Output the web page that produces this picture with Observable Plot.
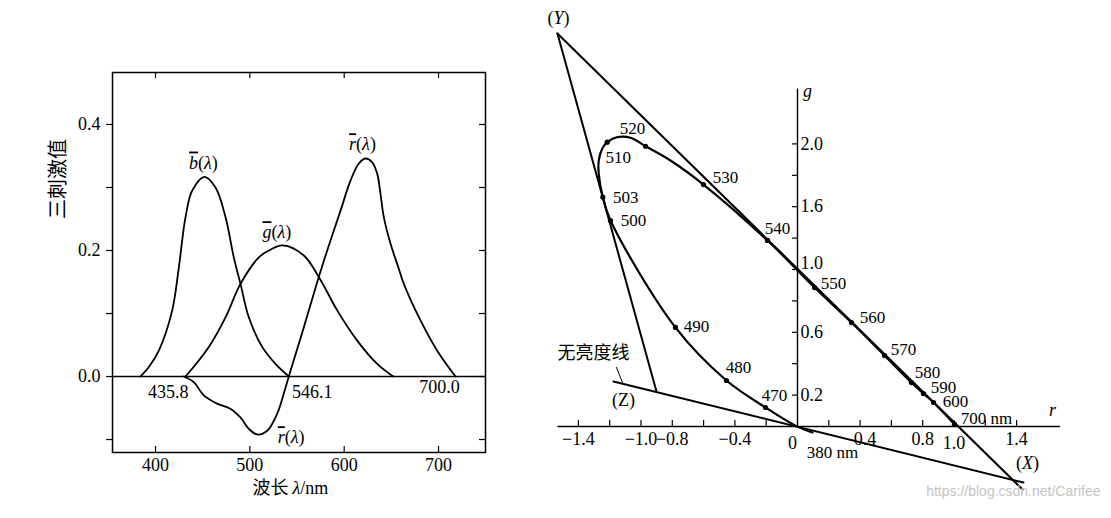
<!DOCTYPE html>
<html><head><meta charset="utf-8">
<script src="https://cdn.jsdelivr.net/npm/d3@7"></script>
<script src="https://cdn.jsdelivr.net/npm/@observablehq/plot@0.6"></script>
<style>
body{margin:0;background:#fff;}
#wrap{position:relative;width:1111px;height:518px;overflow:hidden;background:#fff;}
#left{position:absolute;left:0;top:0;}
#right{position:absolute;left:520px;top:0;}
svg{overflow:visible;}
</style></head><body>
<div id="wrap"><div id="left"></div><div id="right"></div></div>
<script>
// ---------- Left panel data: colour matching functions ----------
const bLambda = [384, 392.9, 403.5, 417.7, 424.7, 431.8, 438.9, 451.9, 463.6, 474.2, 483, 490.1, 498.9, 513.1, 527.2, 541.3];
const bValue  = [0, 0.015, 0.041, 0.105, 0.173, 0.253, 0.295, 0.317, 0.300, 0.253, 0.189, 0.147, 0.094, 0.047, 0.020, 0];
const gLambda = [431.8, 456.5, 474.2, 490.1, 509.5, 520.1, 535, 557.2, 573.1, 592.6, 613.8, 635, 652];
const gValue  = [0, 0.047, 0.094, 0.147, 0.189, 0.200, 0.208, 0.192, 0.158, 0.105, 0.057, 0.020, 0];
const rLambda = [430, 440.6, 451.2, 465.2, 479.3, 490, 498.9, 507.8, 518.4, 529, 536, 541.3, 557.2, 573.1, 585.5, 596.1, 606.7, 615.5, 622.6, 629.7, 635, 638.5, 642, 649.1, 657.9, 663.2, 680.9, 698.6, 718];
const rValue  = [0, -0.009, -0.030, -0.043, -0.051, -0.065, -0.083, -0.092, -0.086, -0.059, -0.027, 0, 0.078, 0.158, 0.216, 0.263, 0.311, 0.338, 0.346, 0.340, 0.322, 0.290, 0.253, 0.211, 0.171, 0.147, 0.089, 0.041, 0];
const lambdaTicks = [400, 500, 600, 700];
const valueTicks = [-0.1, 0, 0.1, 0.2, 0.3, 0.4];
const valueTickLabels = ["", "0.0", "", "0.2", "", "0.4"];
const primaryWavelengths = [435.8, 546.1, 700.0];
const primaryWavelengthLabels = ["435.8", "546.1", "700.0"];
const curveNames = ["b", "g", "r"];
const leftXTitle = "波长 λ/nm";
const leftYTitle = "三刺激值";

// ---------- Right panel data: rg chromaticity diagram ----------
const locusNm = [380, null, 470, 480, 490, 500, 503, null, null, null, 510, null, null, 520, null, 530, 540, 550, 560, 570, 580, 590, 600, 700];
const locusR  = [0.096, -0.01, -0.204, -0.454, -0.780, -1.195, -1.244, -1.270, -1.270, -1.248, -1.216, -1.152, -1.067, -0.971, -0.812, -0.601, -0.192, 0.109, 0.345, 0.556, 0.728, 0.805, 0.869, 1.003];
const locusG  = [-0.038, 0.004, 0.121, 0.293, 0.631, 1.312, 1.461, 1.610, 1.694, 1.769, 1.811, 1.843, 1.839, 1.785, 1.694, 1.541, 1.185, 0.885, 0.662, 0.452, 0.280, 0.210, 0.153, 0.015];
const primaryNames = ["(Y)", "(Z)", "(X)"];
const primaryR = [-1.534, -0.901, 1.361];
const primaryG = [2.503, 0.223, -0.331];
const yxLineR = [-1.534, 1.438];
const yxLineG = [2.503, -0.401];
const alychneR = [-1.176, 1.444];
const alychneG = [0.287, -0.357];
const leaderR = [-1.157, -1.118];
const leaderG = [0.376, 0.280];
const alychneLabel = "无亮度线";
const rTicks = [-1.4, -1.2, -1.0, -0.8, -0.6, -0.4, -0.2, 0.2, 0.4, 0.6, 0.8, 1.0, 1.2, 1.4];
const rTickLabelValues = [-1.4, -1.0, -0.8, -0.4, 0, 0.4, 0.8, 1.0, 1.4];
const rTickLabels = ["−1.4", "−1.0", "−0.8", "−0.4", "0", "0.4", "0.8", "1.0", "1.4"];
const gTicks = [0.2, 0.4, 0.6, 0.8, 1.0, 1.2, 1.4, 1.6, 1.8];
const gTickLabelValues = [0.2, 0.6, 1.0, 1.4, 1.8];
const gTickLabels = ["0.2", "0.6", "1.0", "1.6", "2.0"];
const rAxisExtent = [-1.53, 1.68];
const gAxisExtent = [0, 2.15];
const watermark = "https://blog.csdn.net/Carifee";

// ---------- Layout (code, not data) ----------
const serif = "'Liberation Serif', 'Noto Sans CJK SC', serif";
const toPts = (xs, ys) => xs.map((x, i) => ({x, y: ys[i]}));

// ---------- Left plot ----------
const bData = toPts(bLambda, bValue), gData = toPts(gLambda, gValue), rData = toPts(rLambda, rValue);
const peak = (arr) => arr.reduce((a, b) => (b.y > a.y ? b : a));
const trough = (arr) => arr.reduce((a, b) => (b.y < a.y ? b : a));
const yLabelMap = new Map(valueTicks.map((v, i) => [v, valueTickLabels[i]]));
const LW = 520, LH = 518, LML = 112, LMR = 35, LMT = 72, LMB = 66;
const innerLW = LW - LML - LMR, innerLH = LH - LMT - LMB;
const primOffsets = [[-21, 16], [19, 16], [1, 11]];

const left = Plot.plot({
  width: LW, height: LH, marginLeft: LML, marginRight: LMR, marginTop: LMT, marginBottom: LMB,
  x: {domain: [354.4, 749.8]},
  y: {domain: [-0.1206, 0.4825]},
  style: {fontFamily: serif, fontSize: "18px", color: "#000", background: "#fff", overflow: "visible"},
  marks: [
    Plot.frame({stroke: "#000", strokeWidth: 1.5}),
    Plot.ruleY([0], {stroke: "#000", strokeWidth: 1.3}),
    Plot.axisY(valueTicks, {anchor: "left", tickSize: 6, tickPadding: 6, tickFormat: d => yLabelMap.get(d) ?? "", label: null, fontSize: 18, strokeWidth: 1.2}),
    Plot.tickY(valueTicks, {y: d => d, insetLeft: innerLW - 6, stroke: "#000", strokeWidth: 1.2}),
    Plot.axisX(lambdaTicks, {anchor: "bottom", tickSize: 0, tickPadding: 6, label: null, fontSize: 18}),
    Plot.tickX(lambdaTicks, {x: d => d, insetTop: innerLH - 6, stroke: "#000", strokeWidth: 1.2}),
    Plot.tickX(lambdaTicks, {x: d => d, insetBottom: innerLH - 6, stroke: "#000", strokeWidth: 1.2}),
    Plot.line(bData, {x: "x", y: "y", curve: "catmull-rom", stroke: "#000", strokeWidth: 1.8}),
    Plot.line(gData, {x: "x", y: "y", curve: "catmull-rom", stroke: "#000", strokeWidth: 1.8}),
    Plot.line(rData, {x: "x", y: "y", curve: "catmull-rom", stroke: "#000", strokeWidth: 1.8}),
    Plot.text([peak(bData)], {x: "x", y: "y", text: () => `${curveNames[0]}(λ)`, dx: -1, dy: -14, fontSize: 18}),
    Plot.text([peak(gData)], {x: "x", y: "y", text: () => `${curveNames[1]}(λ)`, dx: -6, dy: -13, fontSize: 18}),
    Plot.text([peak(rData)], {x: "x", y: "y", text: () => `${curveNames[2]}(λ)`, dx: -3, dy: -14, fontSize: 18}),
    Plot.text([trough(rData)], {x: "x", y: "y", text: () => `${curveNames[2]}(λ)`, dx: 34, dy: 3, fontSize: 18}),
    ...primaryWavelengths.map((w, i) => Plot.text([w], {x: d => d, y: () => 0, text: () => primaryWavelengthLabels[i], dx: primOffsets[i][0], dy: primOffsets[i][1], fontSize: 18})),
    Plot.text([leftXTitle], {frameAnchor: "bottom", x: () => 543, text: d => d, dy: 41, fontSize: 18}),
    Plot.text([leftYTitle], {frameAnchor: "left", y: () => 0.25, text: d => d, dx: -54, rotate: -90, fontSize: 20, fontFamily: "'Noto Sans CJK SC', sans-serif"})
  ]
});

// ---------- Right plot ----------
const RW = 591, RH = 518;
const PXR = 156.5, PXG = 157; // pixels per unit (domain chosen accordingly)
const rDomain = [-277 / PXR, (RW - 277) / PXR];
const gDomain = [-(RH - 426) / PXG, 426 / PXG];
const locus = locusNm.map((nm, i) => ({nm, r: locusR[i], g: locusG[i]}));
const labeled = locus.filter(d => d.nm !== null);
const nmOffsets = {380: [20, 20], 470: [9, -12], 480: [12, -13], 490: [21, -1], 500: [23, 0], 503: [23, 0], 510: [11, 15], 520: [-13, -18], 530: [22, -7], 540: [10, -12], 550: [19, -4], 560: [21, -5], 570: [19, -6], 580: [16, -10], 590: [20, -6], 600: [22, -1], 700: [32, -6]};
const nmLabels = labeled.map(d => ({
  text: (d.nm === 380 || d.nm === 700) ? `${d.nm} nm` : `${d.nm}`,
  r: d.r + nmOffsets[d.nm][0] / PXR,
  g: d.g - nmOffsets[d.nm][1] / PXG
}));
const primOff = [[1, -15], [-33, 9], [17, -15]];
const prim = primaryNames.map((n, i) => ({n, r: primaryR[i] + primOff[i][0] / PXR, g: primaryG[i] - primOff[i][1] / PXG}));
// small per-label nudges seen in the reference (pixels)
const rLabNudge = {"0": [-5, 4], "0.4": [5, 0], "1.0": [0, 4]};
const gLabNudge = {"1.0": [0, -6]};
const rLab = rTickLabelValues.map((v, i) => {
  const [nx, ny] = rLabNudge[rTickLabels[i]] ?? [0, 0];
  return {r: v + nx / PXR, g: -(13 + ny) / PXG, t: rTickLabels[i]};
});
const gLab = gTickLabelValues.map((v, i) => {
  const [nx, ny] = gLabNudge[gTickLabels[i]] ?? [0, 0];
  return {r: (3 + nx) / PXR, g: v - ny / PXG, t: gTickLabels[i]};
});

const right = Plot.plot({
  width: RW, height: RH, margin: 0,
  x: {domain: rDomain, axis: null},
  y: {domain: gDomain, axis: null},
  style: {fontFamily: serif, fontSize: "18px", color: "#000", background: "transparent", overflow: "visible"},
  marks: [
    Plot.ruleY([0], {x1: () => rAxisExtent[0], x2: () => rAxisExtent[1], stroke: "#000", strokeWidth: 1.4}),
    Plot.ruleX([0], {y1: () => gAxisExtent[0], y2: () => gAxisExtent[1], stroke: "#000", strokeWidth: 1.4}),
    Plot.ruleX(rTicks, {x: d => d, y1: () => 0, y2: () => 0, insetBottom: 6, stroke: "#000", strokeWidth: 1.2}),
    Plot.ruleY(gTicks, {y: d => d, x1: () => 0, x2: () => 0, insetRight: 5, stroke: "#000", strokeWidth: 1.2}),
    Plot.line(toPts(yxLineR, yxLineG), {x: "x", y: "y", stroke: "#000", strokeWidth: 2}),
    Plot.line([0, 1].map(i => ({x: primaryR[i], y: primaryG[i]})), {x: "x", y: "y", stroke: "#000", strokeWidth: 2}),
    Plot.line(toPts(alychneR, alychneG), {x: "x", y: "y", stroke: "#000", strokeWidth: 2}),
    Plot.line(toPts(leaderR, leaderG), {x: "x", y: "y", stroke: "#000", strokeWidth: 1}),
    Plot.line(locus, {x: "r", y: "g", curve: "catmull-rom", stroke: "#000", strokeWidth: 2.2}),
    Plot.dot(labeled.filter(d => d.nm !== 380), {x: "r", y: "g", r: 2.6, fill: "#000", stroke: null}),
    Plot.text(nmLabels, {x: "r", y: "g", text: "text", fontSize: 17}),
    Plot.text(prim, {x: "r", y: "g", text: "n", fontSize: 18}),
    Plot.text(rLab, {x: "r", y: "g", text: "t", fontSize: 18}),
    Plot.text(gLab, {x: "r", y: "g", text: "t", textAnchor: "start", fontSize: 18}),
    Plot.text(["g"], {x: () => 0, y: () => gAxisExtent[1], text: d => d, dx: 10, dy: 2, fontStyle: "italic", fontSize: 18}),
    Plot.text(["r"], {x: () => rAxisExtent[1], y: () => 0, text: d => d, dx: -8, dy: -16, fontStyle: "italic", fontSize: 18}),
    Plot.text([alychneLabel], {x: () => leaderR[0], y: () => leaderG[0], text: d => d, dx: -23, dy: -14, fontSize: 18, fontFamily: "'Noto Sans CJK SC', sans-serif"}),
    Plot.text([watermark], {frameAnchor: "bottom-right", text: d => d, dx: -11, dy: -23, textAnchor: "end", fill: "#c4c4c4", fontSize: 14, fontFamily: "'Liberation Sans', sans-serif"})
  ]
});

function decorate(svg) {
  d3.select(svg).selectAll("text").each(function () {
    const t = this.textContent;
    const s = d3.select(this);
    let m;
    if ((m = /^([bgr])\(λ\)$/.exec(t))) {
      this.textContent = "";
      s.append("tspan").style("font-style", "italic").style("text-decoration", "overline").text(m[1]);
      s.append("tspan").text("(");
      s.append("tspan").style("font-style", "italic").text("λ");
      s.append("tspan").text(")");
    } else if (t === leftXTitle) {
      this.textContent = "";
      s.append("tspan").style("font-family", "'Noto Sans CJK SC', sans-serif").text("波长 ");
      s.append("tspan").style("font-style", "italic").text("λ");
      s.append("tspan").text("/nm");
    } else if ((m = /^\(([XY])\)$/.exec(t))) {
      this.textContent = "";
      s.append("tspan").text("(");
      s.append("tspan").style("font-style", "italic").text(m[1]);
      s.append("tspan").text(")");
    }
  });
}
decorate(left);
decorate(right);
document.getElementById("left").appendChild(left);
document.getElementById("right").appendChild(right);
</script>
</body></html>
